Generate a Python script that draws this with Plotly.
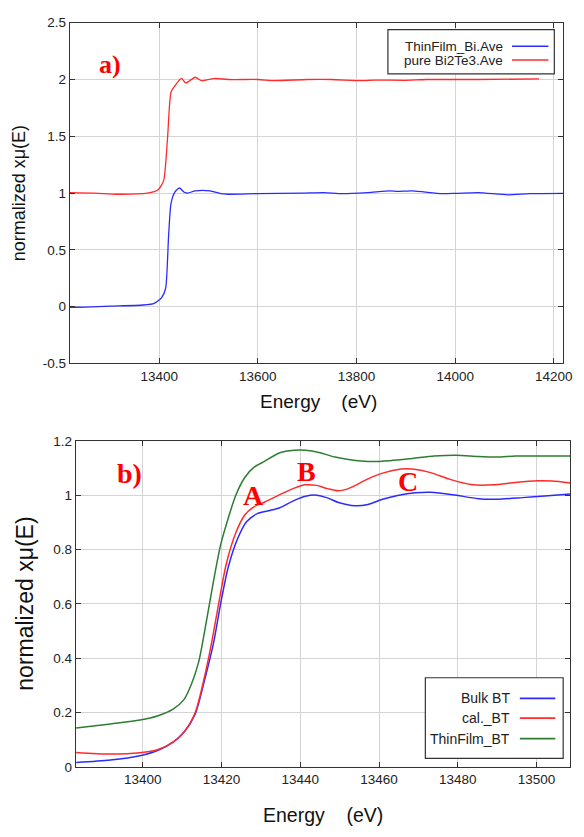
import plotly.graph_objects as go

# ---------------- data: panel a) ----------------
a_thin_E = [13219, 13250, 13300, 13368, 13390, 13405, 13413, 13419, 13424, 13432, 13441, 13450, 13458,
            13473, 13503, 13525, 13540, 13600, 13689, 13734, 13771, 13823, 13868, 13883, 13913, 13973,
            14002, 14047, 14107, 14151, 14221]
a_thin_mu = [-0.005, -0.003, 0.005, 0.015, 0.03, 0.08, 0.16, 0.62, 0.91, 1.01, 1.045, 1.01, 1.0,
             1.02, 1.02, 0.995, 0.99, 0.995, 1.0, 1.005, 0.995, 1.005, 1.02, 1.015, 1.02, 0.995,
             0.998, 1.005, 0.985, 0.995, 0.998]
a_pure_E = [13219, 13270, 13316, 13376, 13398, 13409, 13417, 13424, 13432, 13445, 13454, 13473, 13486,
            13514, 13540, 13600, 13633, 13700, 13749, 13809, 13838, 13898, 13943, 14047, 14170]
a_pure_mu = [1.005, 1.0, 0.99, 1.0, 1.03, 1.11, 1.49, 1.89, 1.945, 2.01, 1.97, 2.02, 1.99,
             2.01, 2.0, 2.0, 1.99, 2.0, 2.0, 1.99, 1.995, 1.993, 2.0, 2.0, 2.005]

# ---------------- data: panel b) ----------------
b_bulk_E = [13383.1, 13391.8, 13399.3, 13403.9, 13407.7, 13410.5, 13413.3, 13415.6, 13418.0, 13419.8,
            13421.7, 13424.0, 13426.4, 13429.2, 13432.0, 13434.8, 13438.5, 13441.3, 13444.1, 13446.9,
            13449.7, 13453.9, 13457.2, 13460.9, 13464.7, 13469.3, 13473.1, 13478.7, 13485.2, 13489.9,
            13496.5, 13502.1, 13508.6]
b_bulk_mu = [0.017, 0.026, 0.042, 0.062, 0.092, 0.129, 0.195, 0.315, 0.459, 0.603,
             0.735, 0.837, 0.903, 0.933, 0.943, 0.954, 0.981, 0.996, 1.0, 0.99,
             0.973, 0.961, 0.966, 0.985, 0.999, 1.009, 1.011, 1.002, 0.987, 0.985,
             0.991, 0.997, 1.004]
b_cal_E = [13383.1, 13391.8, 13399.3, 13403.9, 13407.7, 13410.5, 13413.3, 13415.6, 13417.5, 13419.3,
           13421.2, 13423.6, 13425.9, 13428.2, 13431.0, 13434.8, 13438.5, 13441.3, 13444.1, 13446.9,
           13449.7, 13452.5, 13457.2, 13460.9, 13465.6, 13468.4, 13473.1, 13477.8, 13483.4, 13489.0,
           13494.6, 13500.2, 13503.9, 13508.6]
b_cal_mu = [0.054, 0.048, 0.053, 0.065, 0.092, 0.129, 0.2, 0.327, 0.459, 0.603,
            0.747, 0.861, 0.927, 0.957, 0.975, 1.002, 1.026, 1.038, 1.036, 1.024,
            1.016, 1.026, 1.06, 1.081, 1.096, 1.096, 1.083, 1.059, 1.039, 1.038,
            1.047, 1.053, 1.052, 1.045]
b_thin_E = [13383.1, 13391.8, 13399.3, 13403.9, 13407.7, 13410.5, 13412.3, 13414.2, 13416.1, 13418.0,
            13419.8, 13421.7, 13423.6, 13425.9, 13428.2, 13431.0, 13434.8, 13438.5, 13441.3, 13445.0,
            13448.8, 13453.5, 13457.2, 13462.8, 13468.4, 13474.0, 13479.6, 13485.2, 13489.9, 13494.6,
            13499.3, 13508.6]
b_thin_mu = [0.144, 0.159, 0.173, 0.189, 0.213, 0.249, 0.303, 0.387, 0.531, 0.687,
             0.819, 0.915, 0.999, 1.065, 1.102, 1.125, 1.156, 1.165, 1.165, 1.156,
             1.14, 1.128, 1.124, 1.127, 1.135, 1.144, 1.147, 1.142, 1.14, 1.144,
             1.144, 1.144]

a_xticks = [13400, 13600, 13800, 14000, 14200]
a_yticks = [-0.5, 0, 0.5, 1, 1.5, 2, 2.5]
a_ytick_text = ["-0.5", "0", "0.5", "1", "1.5", "2", "2.5"]
b_xticks = [13400, 13420, 13440, 13460, 13480, 13500]
b_yticks = [0, 0.2, 0.4, 0.6, 0.8, 1.0, 1.2]
b_ytick_text = ["0", "0.2", "0.4", "0.6", "0.8", "1", "1.2"]

legend_a = ["ThinFilm_Bi.Ave", "pure Bi2Te3.Ave"]
legend_b = ["Bulk BT", "cal._BT", "ThinFilm_BT"]

BLUE = "#2b2bff"
RED = "#ff2b2b"
GREEN = "#2e7d32"

W, H = 584, 837


def px(x):
    return x / W


def py(y):
    return 1 - y / H


fig = go.Figure()
fig.add_trace(go.Scatter(x=a_thin_E, y=a_thin_mu, mode="lines", name=legend_a[0],
                         line=dict(color=BLUE, width=1.3, shape="spline", smoothing=0.6),
                         xaxis="x", yaxis="y", showlegend=False))
fig.add_trace(go.Scatter(x=a_pure_E, y=a_pure_mu, mode="lines", name=legend_a[1],
                         line=dict(color=RED, width=1.3, shape="spline", smoothing=0.6),
                         xaxis="x", yaxis="y", showlegend=False))
fig.add_trace(go.Scatter(x=b_bulk_E, y=b_bulk_mu, mode="lines", name=legend_b[0],
                         line=dict(color=BLUE, width=1.5, shape="spline", smoothing=0.8),
                         xaxis="x2", yaxis="y2", showlegend=False))
fig.add_trace(go.Scatter(x=b_cal_E, y=b_cal_mu, mode="lines", name=legend_b[1],
                         line=dict(color=RED, width=1.5, shape="spline", smoothing=0.8),
                         xaxis="x2", yaxis="y2", showlegend=False))
fig.add_trace(go.Scatter(x=b_thin_E, y=b_thin_mu, mode="lines", name=legend_b[2],
                         line=dict(color=GREEN, width=1.5, shape="spline", smoothing=0.8),
                         xaxis="x2", yaxis="y2", showlegend=False))

axis_common = dict(showgrid=True, gridcolor="#d4d4d4", gridwidth=1, zeroline=False,
                   showline=True, linecolor="#333333", linewidth=1.2, mirror="ticks",
                   ticks="inside", ticklen=5, tickcolor="#333333")

SANS = "Liberation Sans, Arial, sans-serif"
fontA = dict(family=SANS, size=13.5, color="#222222")
fontB = dict(family=SANS, size=13.5, color="#222222")

fig.update_layout(
    width=W, height=H, margin=dict(l=0, r=0, t=0, b=0),
    paper_bgcolor="white", plot_bgcolor="white",
    xaxis=dict(domain=[px(71), px(572)], range=[13219, 14219], tickvals=a_xticks,
               tickformat="d", anchor="y", tickfont=fontA, **axis_common),
    yaxis=dict(domain=[py(363), py(16)], range=[-0.5, 2.5], tickvals=a_yticks,
               ticktext=a_ytick_text, anchor="x", tickfont=fontA, **axis_common),
    xaxis2=dict(domain=[px(77), px(579)], range=[13383, 13508.5], tickvals=b_xticks,
                tickformat="d", anchor="y2", tickfont=fontB, **axis_common),
    yaxis2=dict(domain=[py(774), py(441.7)], range=[0, 1.2], tickvals=b_yticks,
                ticktext=b_ytick_text, anchor="x2", tickfont=fontB, **axis_common),
)

ann = []
shapes = []


def text(t, x, y, font, xanchor="center", angle=0):
    ann.append(dict(text=t, x=px(x), y=py(y), xref="paper", yref="paper", showarrow=False,
                    xanchor=xanchor, yanchor="middle", textangle=angle, font=font))


# axis titles
text("normalized xμ(E)", 19, 190, dict(family=SANS, size=18, color="#111"), angle=-90)
text("Energy    (eV)", 323, 402, dict(family=SANS, size=19, color="#111"))
text("normalized xμ(E)", 26, 608, dict(family=SANS, size=23, color="#111"), angle=-90)
text("Energy    (eV)", 328, 823, dict(family=SANS, size=19.5, color="#111"))

# panel labels
for t, x, y, s in [("<b>a)</b>", 111.5, 58.5, 26), ("<b>b)</b>", 131.5, 475.5, 28),
                   ("<b>A</b>", 257, 497.5, 28), ("<b>B</b>", 311, 473, 28), ("<b>C</b>", 414, 483, 28)]:
    text(t, x, y, dict(family="Liberation Serif, Times New Roman, serif", size=s, color="#ff0000"))

# legend a
shapes.append(dict(type="rect", xref="paper", yref="paper", x0=px(394), x1=px(563), y0=py(68), y1=py(23),
                   line=dict(color="#333333", width=1.2), fillcolor="white", layer="above"))
for name, col, yy in zip(legend_a, [BLUE, RED], [40, 54]):
    text(name, 513, yy, dict(family=SANS, size=13.5, color="#222"), xanchor="right")
    shapes.append(dict(type="line", xref="paper", yref="paper", x0=px(520), x1=px(557), y0=py(yy), y1=py(yy),
                       line=dict(color=col, width=1.5), layer="above"))

# legend b
shapes.append(dict(type="rect", xref="paper", yref="paper", x0=px(432), x1=px(572), y0=py(765), y1=py(683),
                   line=dict(color="#333333", width=1.2), fillcolor="white", layer="above"))
for name, col, yy in zip(legend_b, [BLUE, RED, GREEN], [704, 724, 745]):
    text(name, 520.5, yy, dict(family=SANS, size=14, color="#222"), xanchor="right")
    shapes.append(dict(type="line", xref="paper", yref="paper", x0=px(528), x1=px(564), y0=py(yy), y1=py(yy),
                       line=dict(color=col, width=1.8), layer="above"))

fig.update_layout(annotations=ann, shapes=shapes)
fig.write_html("out.html", config={"displayModeBar": False},
               post_script="document.body.style.margin='0px';")
